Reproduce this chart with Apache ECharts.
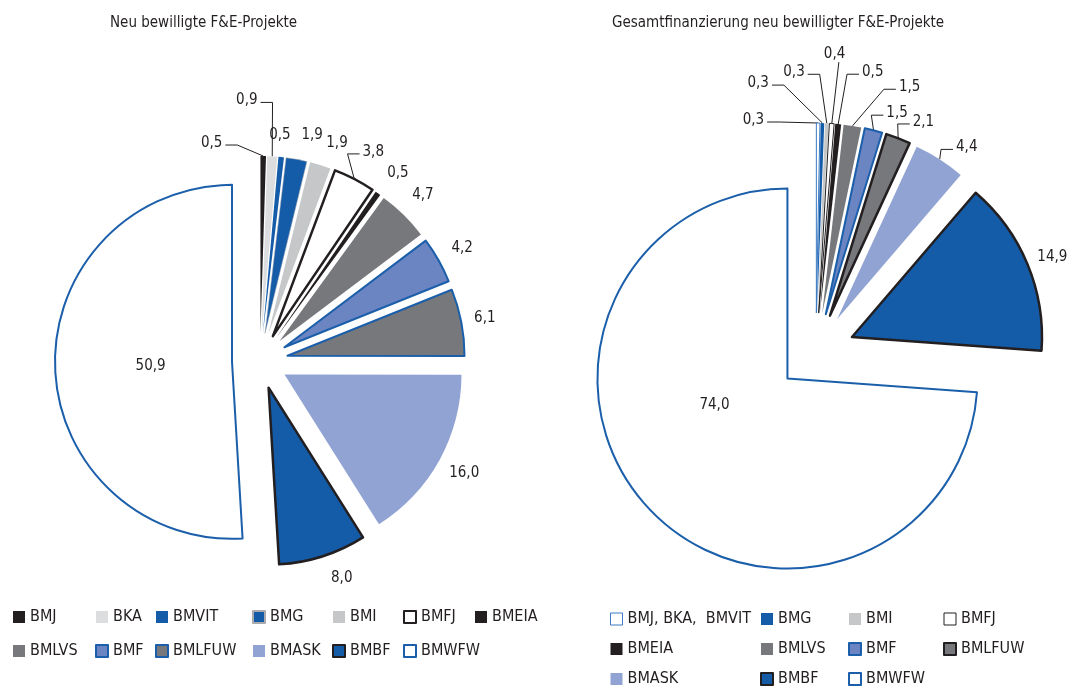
<!DOCTYPE html>
<html><head><meta charset="utf-8">
<script src="https://cdn.jsdelivr.net/npm/echarts@6/dist/echarts.min.js"></script>
<style>html,body{margin:0;padding:0;background:#fff}#c{width:1070px;height:687px}</style>
</head><body><div id="c"></div>
<script>
// ---- data ----
const leftTitle = 'Neu bewilligte F&E-Projekte';
const rightTitle = 'Gesamtfinanzierung neu bewilligter F&E-Projekte';
const leftNames = ['BMJ','BKA','BMVIT','BMG','BMI','BMFJ','BMEIA','BMLVS','BMF','BMLFUW','BMASK','BMBF','BMWFW'];
const leftValues = [0.5,0.9,0.5,1.9,1.9,3.8,0.5,4.7,4.2,6.1,16.0,8.0,50.9];
const rightNames = ['BMJ, BKA,  BMVIT','BMG','BMI','BMFJ','BMEIA','BMLVS','BMF','BMLFUW','BMASK','BMBF','BMWFW'];
const rightValues = [0.3,0.3,0.3,0.4,0.5,1.5,1.5,2.1,4.4,14.9,74.0];

// ---- styles ----
const FONT = "'Liberation Sans Narrow','DejaVu Sans Condensed','Roboto Condensed',sans-serif";
const TXT = '#231f20';
const K = '#231f20', LG = '#dcdddf', B = '#145ba8', MG = '#c6c7c9', DG = '#77787b', MB = '#6b84c2', LB = '#91a3d3', BB = '#1b5fab';
const leftStyle = {
  BMJ:{color:K}, BKA:{color:LG}, BMVIT:{color:B}, BMG:{color:B, borderColor:'#a9abae', borderWidth:0.5},
  BMI:{color:MG}, BMFJ:{color:'#fff', borderColor:K, borderWidth:2.5}, BMEIA:{color:K},
  BMLVS:{color:DG}, BMF:{color:MB, borderColor:BB, borderWidth:2}, BMLFUW:{color:DG, borderColor:BB, borderWidth:2},
  BMASK:{color:LB}, BMBF:{color:B, borderColor:K, borderWidth:2.5}, BMWFW:{color:'#fff', borderColor:BB, borderWidth:2}
};
const leftLegendStyle = Object.assign({}, leftStyle, {BMG:{color:B, borderColor:'#a9abae', borderWidth:2}, BMFJ:{color:'#fff', borderColor:K, borderWidth:2}, BMBF:{color:B, borderColor:K, borderWidth:2}});
const rightStyle = {
  'BMJ, BKA,  BMVIT':{color:'#fff', borderColor:'#3c7bc4', borderWidth:1}, BMG:{color:B}, BMI:{color:MG},
  BMFJ:{color:'#fff', borderColor:K, borderWidth:1}, BMEIA:{color:K}, BMLVS:{color:DG},
  BMF:{color:MB, borderColor:BB, borderWidth:2}, BMLFUW:{color:DG, borderColor:K, borderWidth:2.5},
  BMASK:{color:LB}, BMBF:{color:B, borderColor:K, borderWidth:2.5}, BMWFW:{color:'#fff', borderColor:BB, borderWidth:2}
};
const rightLegendStyle = Object.assign({}, rightStyle, {BMLFUW:{color:DG, borderColor:K, borderWidth:2}, BMBF:{color:B, borderColor:K, borderWidth:2}});

// label placement: which labels get a leader line, and small nudges (px) from the radial position
const leftLineOn = {BMJ:true, BKA:true, BMFJ:true};
const rightLineOff = {BMBF:true, BMWFW:true};
const leftNudge = [[-52,13],[-27,-30],[-4,4],[11,1],[9,3],[7,-4],[5,1],[1,-1],[1,1],[-2,1],[2,0],[11,-3],[0,2]];
const rightNudge = [[-65,23],[-65,-14],[-34,-25],[1,-43],[32,-26],[53,-13],[17,8],[16,8],[13,10],[1,3],[-9,-33]];
const OUT_GAP = 26, INNER_FRAC = 0.46, ELBOW = 12;

function fmt(v){ return v.toFixed(1).replace('.', ','); }
function baseStyle(s){ return Object.assign({borderWidth:0, borderColor:'transparent'}, s); }

const leftData = leftNames.map((n,i)=>({
  name:n, value:leftValues[i], selected:true,
  itemStyle: baseStyle(leftStyle[n]),
  labelLine: {show: !!leftLineOn[n]}
}));
const rightData = rightNames.map((n,i)=>({
  name:n, value:rightValues[i], selected:true,
  itemStyle: baseStyle(rightStyle[n]),
  labelLine: {show: !rightLineOff[n]}
}));

function legendCols(cols, lefts, top, gap, styles){
  return cols.map((col,i)=>({
    orient:'vertical', left:lefts[i], top:top, height:200, itemGap:gap, selectedMode:false, padding:0,
    icon:'rect', itemWidth:12, itemHeight:12,
    textStyle:{fontFamily:FONT, fontSize:16, color:TXT, lineHeight:16},
    data: col.map(n=>({name:n, itemStyle: baseStyle(styles[n])}))
  }));
}
const leftCols = [['BMJ','BMLVS'],['BKA','BMF'],['BMVIT','BMLFUW'],['BMG','BMASK'],['BMI','BMBF'],['BMFJ','BMWFW'],['BMEIA']];
const rightCols = [['BMJ, BKA,  BMVIT','BMEIA','BMASK'],['BMG','BMLVS','BMBF'],['BMI','BMF','BMWFW'],['BMFJ','BMLFUW']];

let chart;
// positions are worked out in the slice's own (un-exploded) frame, which is the frame of labelRect
function makeLayout(seriesIndex, nudges, innerName){
  return function(p){
    const data = chart.getModel().getSeriesByIndex(seriesIndex).getData();
    const lay = data.getItemLayout(p.dataIndex);
    if (!lay || !p.labelRect) return {};
    const m = (lay.startAngle + lay.endAngle) / 2;
    const c = Math.cos(m), s = Math.sin(m);
    const inner = data.getName(p.dataIndex) === innerName;
    const d = inner ? lay.r * INNER_FRAC : lay.r + OUT_GAP;
    const nd = nudges[p.dataIndex] || [0,0];
    const tx = lay.cx + d*c + nd[0], ty = lay.cy + d*s + nd[1];
    const r = p.labelRect;
    const out = {dx: tx - (r.x + r.width/2), dy: ty - (r.y + r.height/2)};
    // leader line from the slice edge to the moved label
    const p0 = [lay.cx + lay.r*c, lay.cy + lay.r*s];
    const hw = r.width/2, hh = r.height/2;
    let pts;
    if (Math.abs(tx - p0[0]) < hw + 4) {
      pts = [[tx + hw*0.4, ty + hh], p0];
    } else if (tx < p0[0]) {
      const a = [tx + hw + 3, ty + 2];
      pts = [a, [a[0] + ELBOW, a[1]], p0];
    } else {
      const a = [tx - hw - 3, ty + 2];
      pts = [a, [a[0] - ELBOW, a[1]], p0];
    }
    out.labelLinePoints = pts;
    return out;
  };
}

const labelCommon = {show:true, position:'outside', formatter:p=>fmt(p.value), fontFamily:FONT, fontSize:15, color:TXT};
const lineCommon = {length:10, length2:8, minTurnAngle:0, lineStyle:{color:TXT, width:1}};

const option = {
  backgroundColor:'#fff',
  animation:false,
  title:[
    {text:leftTitle, left:110, top:16, padding:0, textStyle:{fontFamily:FONT, fontSize:15, fontWeight:'normal', color:TXT}},
    {text:rightTitle, left:612, top:16, padding:0, textStyle:{fontFamily:FONT, fontSize:15, fontWeight:'normal', color:TXT}}
  ],
  legend: legendCols(leftCols,[13,95,155,252,332,403,475],609,18,leftLegendStyle)
    .concat(legendCols(rightCols,[610,760,848,943],611,14,rightLegendStyle)),
  series:[
    {type:'pie', center:[260,361], radius:177, startAngle:90, clockwise:true,
     selectedMode:'multiple', selectedOffset:28, avoidLabelOverlap:false,
     label:labelCommon, labelLine:lineCommon, labelLayout:makeLayout(0,leftNudge,'BMWFW'),
     emphasis:{disabled:true}, data:leftData},
    {type:'pie', center:[816,352], radius:190, startAngle:90, clockwise:true,
     selectedMode:'multiple', selectedOffset:39, avoidLabelOverlap:false,
     label:labelCommon, labelLine:lineCommon, labelLayout:makeLayout(1,rightNudge,'BMWFW'),
     emphasis:{disabled:true}, data:rightData}
  ]
};
chart = echarts.init(document.getElementById('c'), null, {renderer:'canvas'});
chart.setOption(option);
</script></body></html>
